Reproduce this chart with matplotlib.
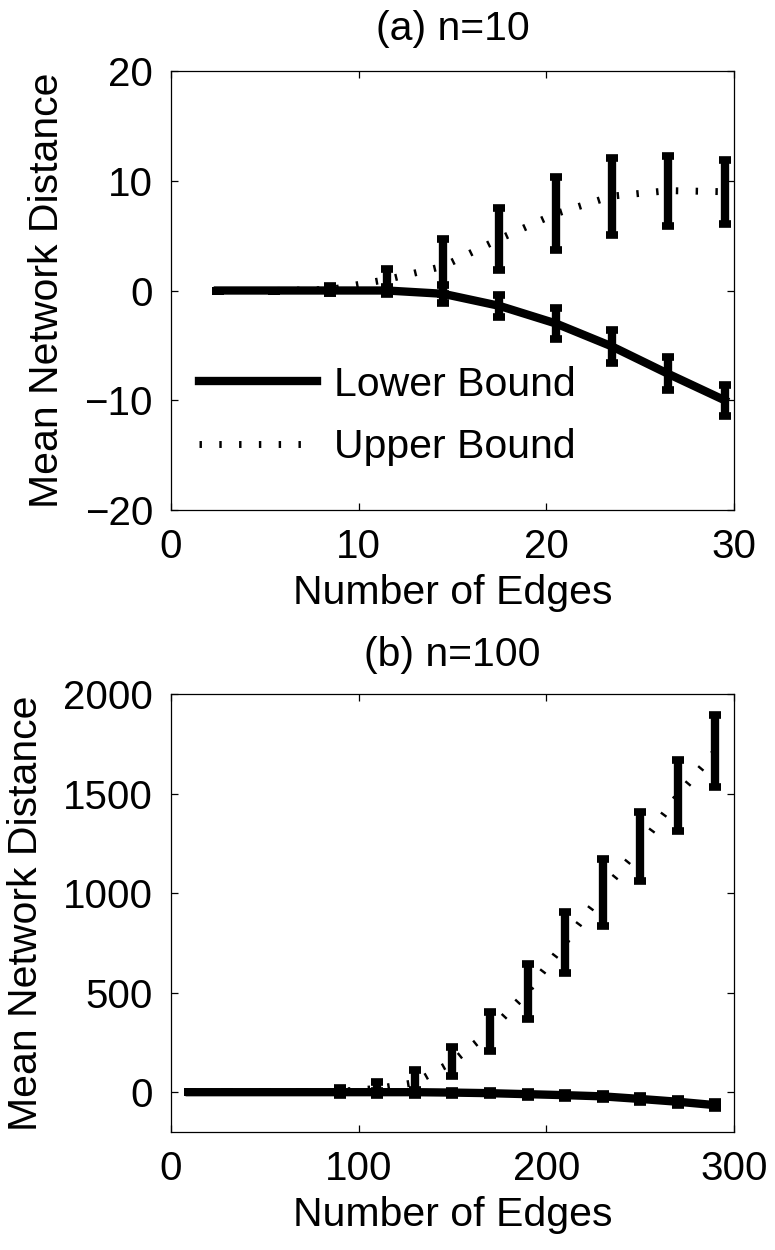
import numpy as np
import matplotlib.pyplot as plt

plt.rcParams['font.family'] = ['Liberation Sans', 'DejaVu Sans']

# (a) n=10
edges_a = [2.5, 5.5, 8.5, 11.5, 14.5, 17.5, 20.5, 23.5, 26.5, 29.5]
lower_a = [0, 0, 0, 0, -0.3, -1.4, -3.0, -5.1, -7.6, -10.0]
lower_a_err = [0, 0, 0.2, 0.3, 0.8, 1.0, 1.4, 1.5, 1.5, 1.4]
upper_a = [0, 0, 0.1, 1.0, 2.2, 4.7, 7.0, 8.6, 9.1, 9.0]
upper_a_err = [0, 0, 0.3, 1.0, 2.5, 2.85, 3.3, 3.5, 3.2, 2.9]

# (b) n=100
edges_b = [10, 30, 50, 70, 90, 110, 130, 150, 170, 190, 210, 230, 250, 270, 290]
lower_b = [0, 0, 0, 0, 0, 0, 0, -2, -5, -10, -15, -21, -34, -48, -65]
lower_b_err = [0, 0, 0, 0, 5, 8, 10, 10, 10, 12, 12, 14, 15, 15, 15]
upper_b = [0, 0, 0, 0, 4, 19, 48, 153, 305, 506, 752, 1004, 1235, 1489, 1712]
upper_b_err = [0, 0, 0, 0, 19, 33, 62, 72, 100, 138, 153, 169, 172, 177, 181]

FS = 29.5
LW = 6

fig = plt.figure(figsize=(7.75, 12.5), dpi=100)
ax_a = fig.add_axes([0.2206, 0.592, 0.7265, 0.3512])
ax_b = fig.add_axes([0.2206, 0.0944, 0.7265, 0.3504])


def draw(ax, x, lo, lo_err, up, up_err):
    dot = (0, (0.35, 2.5))
    l1, = ax.plot(x, lo, color='black', lw=LW, solid_capstyle='projecting',
                  label='Lower Bound', zorder=3)
    l2, = ax.plot(x, up, color='black', lw=5, linestyle=dot,
                  dash_capstyle='butt', label='Upper Bound', zorder=2)
    for y, e in [(lo, lo_err), (up, up_err)]:
        ax.errorbar(x, y, yerr=e, fmt='none', ecolor='black', elinewidth=6,
                    capsize=4.2, capthick=5.5, zorder=4)
    for s in ax.spines.values():
        s.set_linewidth(0.9)
    ax.tick_params(direction='in', top=True, right=True, length=5,
                   width=0.9, labelsize=29, pad=13)
    ax.set_xlabel('Number of Edges', fontsize=FS, labelpad=6)
    ax.set_ylabel('Mean Network Distance', fontsize=FS, labelpad=13)
    return l1, l2


h = draw(ax_a, edges_a, lower_a, lower_a_err, upper_a, upper_a_err)
ax_a.set_xlim(0, 30)
ax_a.set_ylim(-20, 20)
ax_a.set_xticks([0, 10, 20, 30])
ax_a.set_yticks([-20, -10, 0, 10, 20])
ax_a.set_yticklabels(['\u221220', '\u221210', '0', '10', '20'])
ax_a.set_title('(a) n=10', fontsize=FS, pad=22)
ax_a.legend(handles=list(h), loc='lower left', bbox_to_anchor=(0.02, 0.062),
            frameon=False, fontsize=FS, handlelength=2.9, handletextpad=0.4,
            labelspacing=0.6, borderaxespad=0)

draw(ax_b, edges_b, lower_b, lower_b_err, upper_b, upper_b_err)
ax_b.set_xlim(0, 300)
ax_b.set_ylim(-200, 2000)
ax_b.set_xticks([0, 100, 200, 300])
ax_b.set_yticks([0, 500, 1000, 1500, 2000])
ax_b.set_title('(b) n=100', fontsize=FS, pad=20)

fig.savefig('out.png', dpi=100)
